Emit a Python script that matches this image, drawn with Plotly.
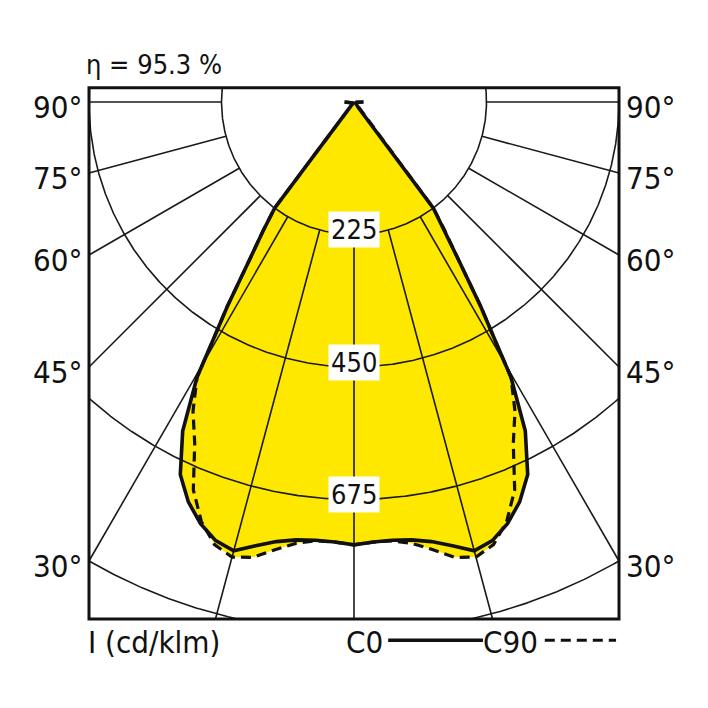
import numpy as np
import plotly.graph_objects as go

# luminous intensity (cd/klm) vs angle from nadir, one half of each plane
angles = [0, 2.5, 5, 7.5, 10, 12.5, 15, 17.5, 20, 22.5, 25, 27.5, 29.7,
          30.6, 31.8, 33.6, 35.2, 36.8, 37.3, 40, 60, 85, 90]
c0 = [752, 748, 747, 750, 758, 772, 789, 781, 762, 735, 698, 630, 538,
      472, 408, 318, 268, 225, 12, 3, 3, 4, 16]
c90 = [752, 748, 748, 756, 772, 792, 800, 788, 758, 713, 640, 592, 538,
       472, 408, 318, 268, 225, 12, 3, 3, 4, 16]

grid_radii = [225, 450, 675, 900]
radial_angles = [0, 15, 30, 45, 60, 75, 90]
angle_labels = ["30°", "45°", "60°", "75°", "90°"]
eta_text = "η = 95.3 %"

# frame of the diagram in cd/klm units
box_x = 450
box_top = 24
box_bottom = -878

k = 132.5 / 225  # px per cd/klm
cx, cy = 346, 94  # pole position inside the figure (page body adds 8px)
FONT = "DejaVu Sans Condensed, Liberation Sans Narrow, Roboto, sans-serif"
YELLOW = "#FFE800"
INK = "#111111"


def to_xy(gam, vals):
    g = np.radians(np.concatenate([-np.array(gam)[::-1], np.array(gam)[1:]]))
    r = np.concatenate([np.array(vals)[::-1], np.array(vals)[1:]])
    return r * np.sin(g), -r * np.cos(g)


def inside(x, y):
    return (np.abs(x) <= box_x + 1e-6) & (y <= box_top + 1e-6) & (y >= box_bottom - 1e-6)


fig = go.Figure()

x0, y0 = to_xy(angles, c0)
x90, y90 = to_xy(angles, c90)

# yellow fill (union of both planes)
for xs, ys in [(x0, y0), (x90, y90)]:
    fig.add_trace(go.Scatter(x=xs, y=ys, mode="lines", fill="toself",
                             fillcolor=YELLOW, line=dict(width=0, color=YELLOW),
                             hoverinfo="skip", showlegend=False))

# grid circles clipped to the frame
t = np.radians(np.linspace(-180, 180, 1441))
for r in grid_radii:
    gx = r * np.sin(t)
    gy = -r * np.cos(t)
    m = inside(gx, gy)
    gx = np.where(m, gx, np.nan)
    gy = np.where(m, gy, np.nan)
    fig.add_trace(go.Scatter(x=gx, y=gy, mode="lines",
                             line=dict(color="#1a1a1a", width=1.6),
                             hoverinfo="skip", showlegend=False, connectgaps=False))

# radial lines from the 225 circle to the frame
for a in radial_angles:
    for s in ([1] if a == 0 else [-1, 1]):
        g = np.radians(a * s)
        ends = []
        if abs(np.sin(g)) > 1e-9:
            ends.append(box_x / abs(np.sin(g)))
        if np.cos(g) > 1e-9:
            ends.append(-box_bottom / np.cos(g))
        rr = np.array([grid_radii[0], min(ends)])
        fig.add_trace(go.Scatter(x=rr * np.sin(g), y=-rr * np.cos(g), mode="lines",
                                 line=dict(color="#1a1a1a", width=1.6),
                                 hoverinfo="skip", showlegend=False))

# curves
fig.add_trace(go.Scatter(x=x90, y=y90, mode="lines",
                         line=dict(color=INK, width=3.2, dash="10px,6px"),
                         hoverinfo="skip", showlegend=False))
fig.add_trace(go.Scatter(x=x0, y=y0, mode="lines",
                         line=dict(color=INK, width=3.6),
                         hoverinfo="skip", showlegend=False))

# intensity labels on the nadir line
for r in grid_radii[:3]:
    fig.add_annotation(x=0, y=-r, text=str(r), showarrow=False, yshift=5,
                       font=dict(family=FONT, size=27, color=INK),
                       bgcolor="white", borderpad=2)

# angle labels on both sides
for lab in angle_labels:
    a = int(lab.rstrip("°"))
    yy = -box_x / np.tan(np.radians(a)) if a < 90 else 0
    for side, anchor, shift in [(-1, "right", -5), (1, "left", 5)]:
        fig.add_annotation(x=side * box_x, y=yy, text=lab, showarrow=False,
                           xanchor=anchor, xshift=shift, yshift=-5,
                           font=dict(family=FONT, size=31, color=INK))

fig.add_annotation(x=-box_x, y=box_top, text=eta_text, showarrow=False,
                   xanchor="left", yanchor="bottom", xshift=-5, yshift=6,
                   font=dict(family=FONT, size=27, color=INK))
fig.add_annotation(x=-box_x, y=box_bottom, text="I (cd/klm)", showarrow=False,
                   xanchor="left", yanchor="top", xshift=-3, yshift=-3,
                   font=dict(family=FONT, size=31, color=INK))

# legend
leg_y = box_bottom - 36
fig.add_annotation(x=53, y=box_bottom, text="C0", showarrow=False,
                   xanchor="right", yanchor="top", yshift=-3,
                   font=dict(family=FONT, size=31, color=INK))
fig.add_annotation(x=316, y=box_bottom, text="C90", showarrow=False,
                   xanchor="right", yanchor="top", yshift=-3,
                   font=dict(family=FONT, size=31, color=INK))
fig.add_shape(type="line", x0=58, x1=219, y0=leg_y, y1=leg_y,
              line=dict(color=INK, width=3.6))
fig.add_shape(type="line", x0=324, x1=445, y0=leg_y, y1=leg_y,
              line=dict(color=INK, width=3.2, dash="10px,6px"))

# frame
fig.add_shape(type="rect", x0=-box_x, x1=box_x, y0=box_bottom, y1=box_top,
              line=dict(color=INK, width=3))

fig.update_layout(
    width=708, height=708,
    margin=dict(l=0, r=0, t=0, b=0),
    paper_bgcolor="white", plot_bgcolor="white",
    xaxis=dict(range=[-cx / k, (708 - cx) / k], visible=False, fixedrange=True),
    yaxis=dict(range=[-(708 - cy) / k, cy / k], visible=False, fixedrange=True),
    showlegend=False,
)

fig.write_html("out.html")
